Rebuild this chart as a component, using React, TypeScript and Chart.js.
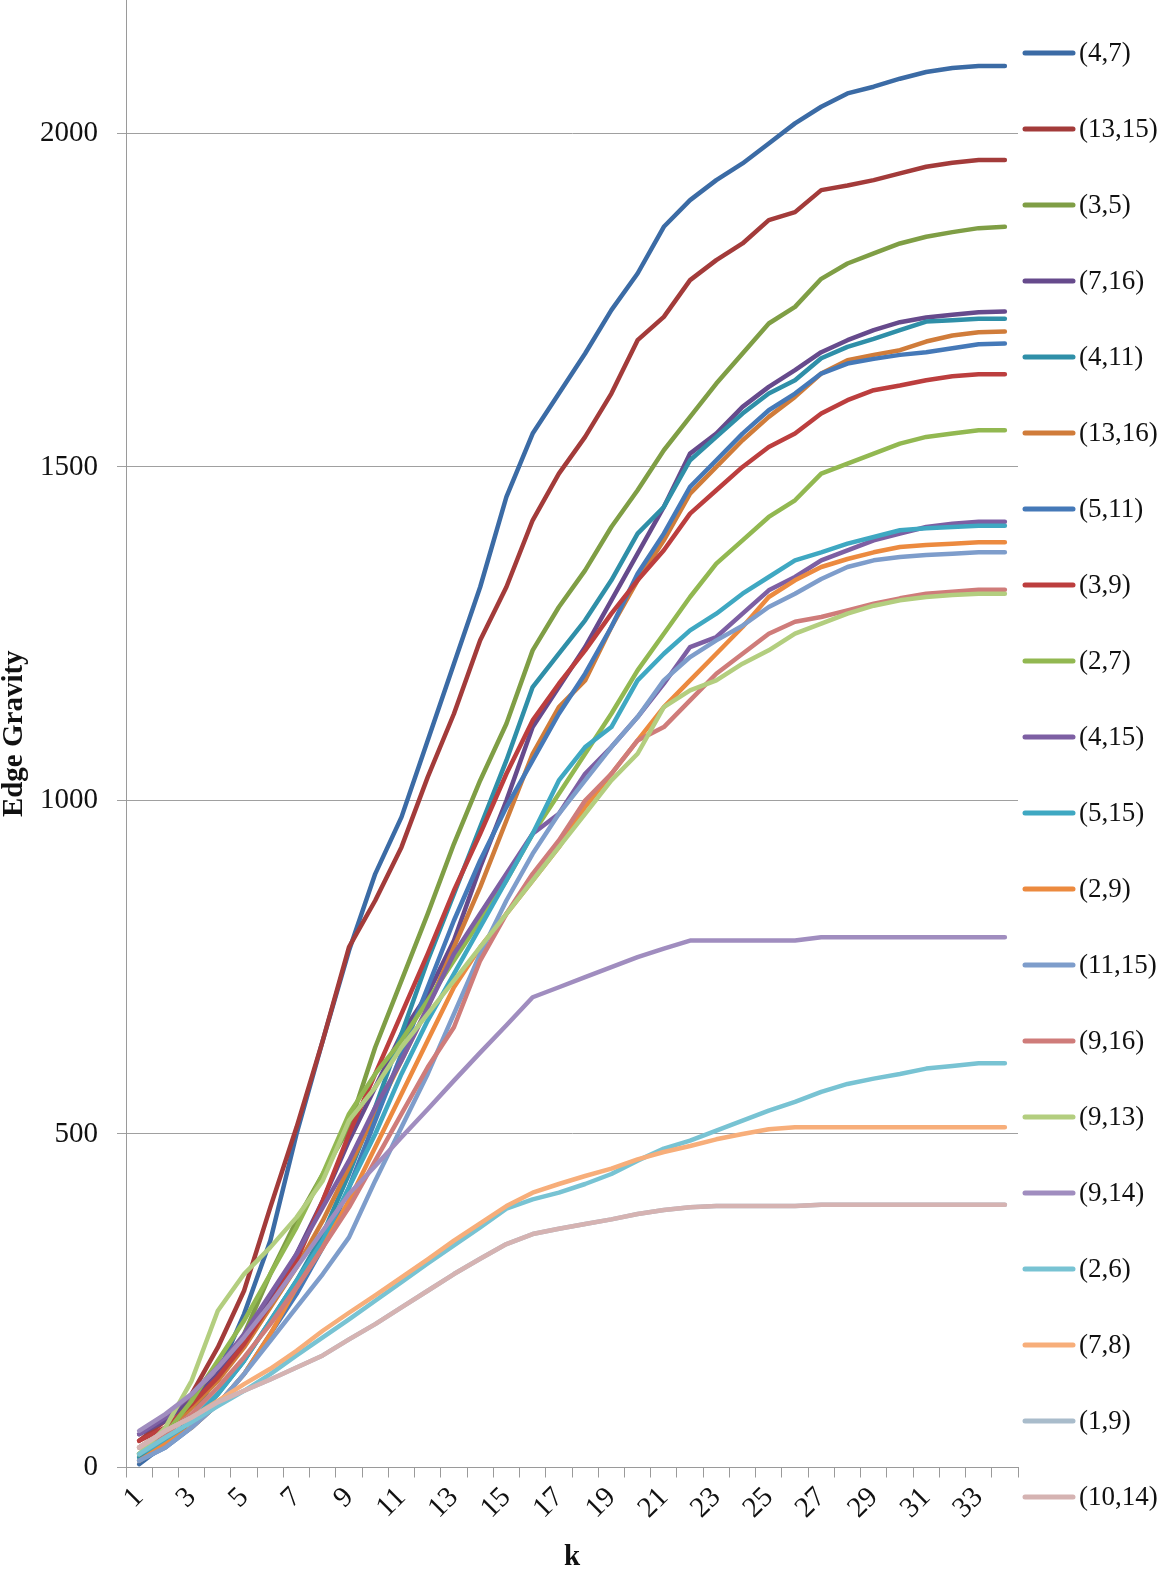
import React, { useEffect, useRef } from "react";
import { Chart, registerables } from "chart.js";

Chart.register(...registerables);

const categories = Array.from({ length: 34 }, (_, i) => String(i + 1));

const seriesNames = [
  "(4,7)", "(13,15)", "(3,5)", "(7,16)", "(4,11)", "(13,16)", "(5,11)", "(3,9)", "(2,7)", "(4,15)",
  "(5,15)", "(2,9)", "(11,15)", "(9,16)", "(9,13)", "(9,14)", "(2,6)", "(7,8)", "(1,9)", "(10,14)",
];

const seriesColors = [
  "#3b6ba5", "#a33b3a", "#7f9e45", "#664a8c", "#2f8fa8", "#d07c3a", "#4579b8", "#bc3e3e", "#92b851", "#7d5fa3",
  "#3fa8c2", "#ec8a3f", "#7e9dcb", "#cf7c7a", "#b3ce7f", "#a08dbf", "#78c3d3", "#f7ae7a", "#a9bccb", "#d5b3b2",
];

const s4_7 = [5, 35, 75, 140, 230, 340, 500, 640, 775, 890, 975, 1090, 1205, 1320, 1455, 1550, 1610, 1670, 1735, 1790, 1860, 1900, 1930, 1955, 1985, 2015, 2040, 2060, 2070, 2082, 2092, 2098, 2101, 2101];
const s13_15 = [40, 70, 110, 180, 265, 390, 510, 640, 780, 850, 930, 1035, 1130, 1240, 1320, 1420, 1490, 1545, 1610, 1690, 1725, 1780, 1810, 1835, 1870, 1882, 1915, 1922, 1930, 1940, 1950, 1956, 1960, 1960];
const s3_5 = [20, 50, 90, 130, 200, 290, 370, 440, 510, 630, 730, 830, 935, 1030, 1115, 1225, 1290, 1345, 1410, 1465, 1525, 1575, 1625, 1670, 1715, 1740, 1782, 1805, 1820, 1835, 1845, 1852, 1858, 1860];
const s7_16 = [50, 70, 100, 140, 190, 250, 320, 400, 490, 570, 650, 710, 790, 900, 1000, 1110, 1170, 1230, 1300, 1370, 1440, 1520, 1550, 1590, 1620, 1645, 1672, 1690, 1705, 1717, 1724, 1728, 1732, 1733];
const s4_11 = [15, 35, 70, 110, 160, 220, 280, 350, 440, 540, 650, 760, 860, 960, 1060, 1170, 1220, 1270, 1330, 1400, 1440, 1510, 1545, 1580, 1610, 1630, 1663, 1680, 1692, 1705, 1718, 1720, 1722, 1722];
const s13_16 = [30, 55, 90, 130, 180, 240, 300, 370, 450, 530, 610, 690, 780, 870, 970, 1070, 1140, 1180, 1260, 1330, 1390, 1460, 1500, 1540, 1575, 1605, 1640, 1660, 1668, 1675, 1688, 1697, 1702, 1703];
const s5_11 = [10, 30, 60, 95, 140, 200, 260, 330, 420, 520, 620, 720, 820, 910, 990, 1060, 1130, 1190, 1260, 1340, 1400, 1470, 1510, 1550, 1585, 1610, 1640, 1655, 1662, 1668, 1672, 1678, 1684, 1685];
const s3_9 = [40, 60, 95, 135, 185, 245, 310, 400, 500, 590, 680, 770, 865, 950, 1040, 1120, 1175, 1225, 1280, 1330, 1375, 1430, 1465, 1500, 1530, 1550, 1580, 1600, 1615, 1622, 1630, 1636, 1639, 1639];
const s2_7 = [20, 50, 100, 160, 220, 290, 360, 440, 530, 590, 640, 700, 760, 820, 880, 950, 1010, 1070, 1130, 1195, 1250, 1305, 1355, 1390, 1425, 1450, 1490, 1505, 1520, 1535, 1545, 1550, 1555, 1555];
const s4_15 = [50, 75, 110, 150, 200, 260, 320, 390, 460, 540, 610, 690, 770, 830, 890, 950, 980, 1040, 1080, 1125, 1175, 1230, 1245, 1280, 1315, 1335, 1360, 1375, 1390, 1400, 1410, 1415, 1418, 1418];
const s5_15 = [20, 40, 70, 110, 160, 220, 280, 340, 420, 500, 590, 670, 740, 810, 880, 950, 1030, 1080, 1110, 1180, 1220, 1255, 1280, 1310, 1335, 1360, 1372, 1385, 1395, 1405, 1408, 1410, 1412, 1412];
const s2_9 = [10, 35, 60, 95, 140, 200, 270, 330, 400, 480, 560, 640, 720, 780, 830, 880, 930, 990, 1040, 1090, 1140, 1180, 1220, 1260, 1305, 1330, 1350, 1362, 1372, 1380, 1383, 1385, 1387, 1387];
const s11_15 = [10, 30, 60, 95, 140, 190, 240, 290, 345, 430, 510, 590, 680, 770, 850, 920, 980, 1030, 1080, 1125, 1180, 1215, 1240, 1262, 1290, 1310, 1332, 1350, 1360, 1365, 1368, 1370, 1372, 1372];
const s9_16 = [30, 50, 80, 120, 165, 215, 270, 330, 390, 460, 530, 600, 660, 760, 830, 890, 940, 1000, 1040, 1090, 1110, 1150, 1190, 1220, 1250, 1268, 1275, 1285, 1295, 1303, 1310, 1313, 1316, 1316];
const s9_13 = [20, 60, 130, 235, 290, 330, 375, 430, 520, 570, 630, 680, 730, 780, 830, 880, 930, 980, 1030, 1070, 1140, 1165, 1180, 1205, 1225, 1250, 1265, 1280, 1292, 1300, 1305, 1308, 1310, 1310];
const s9_14 = [55, 80, 110, 150, 195, 245, 300, 355, 410, 452, 495, 537, 580, 622, 663, 705, 720, 735, 750, 765, 778, 790, 790, 790, 790, 790, 795, 795, 795, 795, 795, 795, 795, 795];
const s2_6 = [20, 45, 68, 92, 115, 140, 168, 195, 222, 250, 278, 306, 333, 360, 388, 402, 412, 425, 440, 460, 478, 490, 505, 520, 535, 548, 563, 575, 583, 590, 598, 602, 606, 606];
const s7_8 = [30, 55, 75, 100, 125, 148, 175, 205, 232, 258, 285, 312, 340, 366, 392, 412, 425, 437, 448, 462, 473, 482, 492, 500, 507, 510, 510, 510, 510, 510, 510, 510, 510, 510];
const s1_9 = [30, 55, 75, 98, 115, 132, 150, 168, 192, 215, 240, 265, 290, 313, 335, 350, 358, 365, 372, 380, 386, 390, 392, 392, 392, 392, 394, 394, 394, 394, 394, 394, 394, 394];
const s10_14 = [30, 55, 75, 98, 115, 132, 150, 168, 192, 215, 240, 265, 290, 313, 335, 350, 358, 365, 372, 380, 386, 390, 392, 392, 392, 392, 394, 394, 394, 394, 394, 394, 394, 394];

const seriesValues = [
  s4_7, s13_15, s3_5, s7_16, s4_11, s13_16, s5_11, s3_9, s2_7, s4_15,
  s5_15, s2_9, s11_15, s9_16, s9_13, s9_14, s2_6, s7_8, s1_9, s10_14,
];

const yTicks = [0, 500, 1000, 1500, 2000];

const SERIF = "'Liberation Serif', 'Times New Roman', serif";

const legendPlugin = {
  id: "sideLegend",
  afterDraw(chart: any) {
    const { ctx, chartArea } = chart;
    const x0 = chartArea.right + 5;
    ctx.save();
    chart.data.datasets.forEach((ds: any, i: number) => {
      const y = 53 + i * 76;
      ctx.strokeStyle = ds.borderColor;
      ctx.lineWidth = 5;
      ctx.lineCap = "round";
      ctx.beginPath();
      ctx.moveTo(x0 + 2, y);
      ctx.lineTo(x0 + 50, y);
      ctx.stroke();
      ctx.fillStyle = "#111";
      ctx.font = `27px ${SERIF}`;
      ctx.textAlign = "left";
      ctx.textBaseline = "middle";
      ctx.fillText(ds.label, x0 + 56, y + 1);
    });
    ctx.restore();
  },
};

export default function App() {
  const ref = useRef<HTMLCanvasElement | null>(null);

  useEffect(() => {
    document.body.style.margin = "0";
    const canvas = ref.current;
    if (!canvas) return;
    const n = seriesValues.length;
    const chart = new Chart(canvas, {
      type: "line",
      data: {
        labels: categories,
        datasets: seriesValues.map((vals, i) => ({
          label: seriesNames[i],
          data: vals,
          borderColor: seriesColors[i],
          backgroundColor: seriesColors[i],
          borderWidth: 4.5,
          pointRadius: 0,
          pointHoverRadius: 0,
          tension: 0,
          fill: false,
          borderJoinStyle: "round" as const,
          borderCapStyle: "round" as const,
          order: n - 1 - i,
        })),
      },
      options: {
        animation: false,
        responsive: false,
        maintainAspectRatio: false,
        events: [],
        layout: { padding: { left: 0, right: 143, top: 0, bottom: 0 } },
        plugins: {
          legend: { display: false },
          tooltip: { enabled: false },
        },
        scales: {
          x: {
            type: "category",
            offset: true,
            grid: {
              display: true,
              drawOnChartArea: false,
              drawTicks: true,
              tickLength: 10,
              offset: true,
              color: "#9a9a9a",
              lineWidth: 1,
            },
            border: { display: true, color: "#9a9a9a", width: 1 },
            ticks: {
              autoSkip: false,
              maxRotation: 45,
              minRotation: 45,
              padding: 3,
              color: "#111",
              font: { family: SERIF, size: 29 },
              callback: (_v: any, i: number) => (i % 2 === 0 ? categories[i] : ""),
            },
            title: {
              display: true,
              text: "k",
              color: "#111",
              font: { family: SERIF, size: 29, weight: "bold", lineHeight: 1 },
              padding: { top: 0, bottom: 0 },
            },
            afterFit: (s: any) => {
              s.height = 104.5;
              s.paddingLeft = 0;
              s.paddingRight = 0;
            },
          },
          y: {
            min: 0,
            max: 2200,
            afterBuildTicks: (s: any) => {
              s.ticks = yTicks.map((v) => ({ value: v }));
            },
            ticks: {
              padding: 19,
              color: "#111",
              font: { family: SERIF, size: 29 },
              callback: (v: any) => String(v),
            },
            grid: { color: "#a0a0a0", lineWidth: 1, tickLength: 9, drawTicks: true },
            border: { display: true, color: "#9a9a9a", width: 1 },
            title: {
              display: true,
              text: "Edge Gravity",
              color: "#111",
              font: { family: SERIF, size: 29, weight: "bold", lineHeight: 1 },
              padding: 0,
            },
            afterFit: (s: any) => {
              s.width = 126;
              s.paddingTop = 0;
              s.paddingBottom = 0;
            },
          },
        },
      },
      plugins: [legendPlugin],
    });
    return () => chart.destroy();
  }, []);

  return <canvas ref={ref} width={1161} height={1572} style={{ display: "block" }} />;
}
